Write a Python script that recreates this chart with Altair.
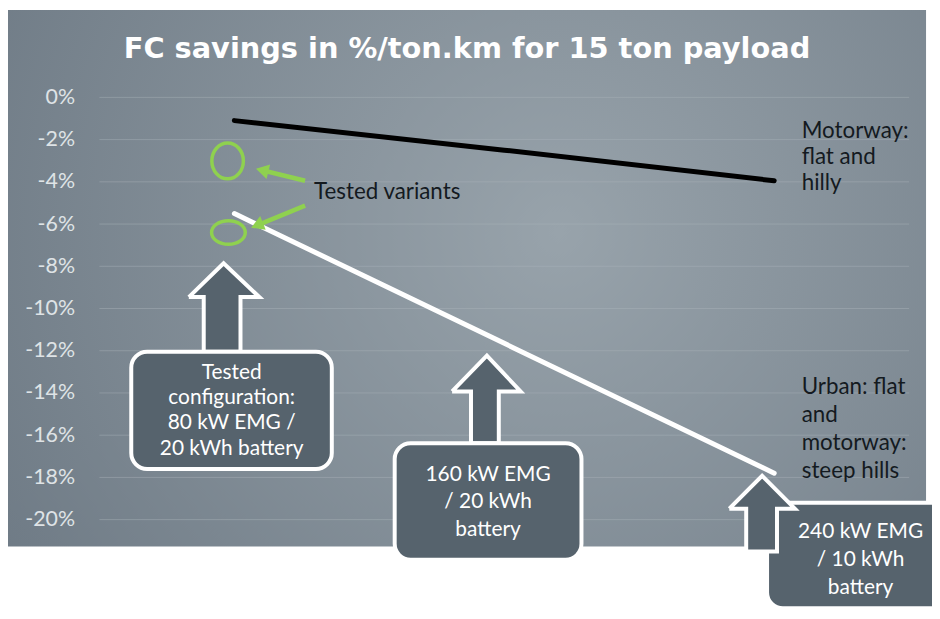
import altair as alt
import pandas as pd

# ---- data ----
configs = [1, 2, 3]
motorway = [-1.1, -2.5, -3.95]
urban = [-5.5, -11.65, -17.8]
y_ticks = [0, -2, -4, -6, -8, -10, -12, -14, -16, -18, -20]

title_text = "FC savings in %/ton.km for 15 ton payload"

# tested variant markers (data units)
ell_x = [0.975, 0.978]
ell_y = [-3.01, -6.4]

# green pointer arrows (start -> head)
ptr_x1 = [1.262, 1.262]
ptr_y1 = [-3.95, -5.13]
ptr_x2 = [1.103, 1.084]
ptr_y2 = [-3.45, -6.06]
ptr_angle = [284, 248]

# block arrows polygons (data units)
arr_id = [1]*8 + [2]*8 + [3]*8
arr_x = [0.8313, 0.9601, 1.0926, 1.0227, 1.0227, 0.8865, 0.8865, 0.8313,
         1.8067, 1.9356, 2.0607, 1.9797, 1.9797, 1.8767, 1.8767, 1.8067,
         2.8337, 2.9552, 3.0767, 3.0104, 3.0104, 2.8963, 2.8963, 2.8337]
arr_y = [-9.459, -7.859, -9.459, -9.459, -12.047, -12.047, -9.459, -9.459,
         -13.929, -12.235, -13.929, -13.929, -16.376, -16.376, -13.929, -13.929,
         -19.482, -17.929, -19.482, -19.482, -21.506, -21.506, -19.482, -19.482]

# boxes (data units)
box_x1 = [0.618, 1.594, 2.9736]
box_x2 = [1.361, 2.286, 3.68]
box_y1 = [-12.05, -16.38, -19.2]
box_y2 = [-17.6, -21.9, -24.2]
box_text = ["Tested\nconfiguration:\n80 kW EMG /\n20 kWh battery",
            "160 kW EMG\n/ 20 kWh\nbattery",
            "240 kW EMG\n/ 10 kWh\nbattery"]
box_tx = [0.99, 1.94, 3.32]
box_ty = [-12.52, -17.35, -20.07]

# side labels
lab_text = ["Motorway:\nflat and\nhilly", "Urban: flat\nand\nmotorway:\nsteep hills", "Tested variants"]
lab_x = [3.102, 3.102, 1.295]
lab_y = [-1.1, -13.2, -3.96]

FONT = "Lato"
xs = alt.Scale(domain=[0.5, 3.5])
ys = alt.Scale(domain=[-20, 0])

lines_df = pd.DataFrame({
    "x": configs * 2,
    "y": motorway + urban,
    "s": ["Motorway"] * 3 + ["Urban"] * 3,
})

gradient = {
    "gradient": "radial",
    "x1": 0.6, "y1": 0.45, "x2": 0.6, "y2": 0.45, "r1": 0, "r2": 0.75,
    "stops": [{"offset": 0, "color": "#98a3ab"},
              {"offset": 1, "color": "#6c7883"}],
}

bg = alt.Chart(pd.DataFrame({"a": [0]})).mark_rect(fill=gradient).encode(
    x=alt.value(-92), x2=alt.value(832), y=alt.value(-88), y2=alt.value(452)
)

grid = alt.Chart(pd.DataFrame({"y": y_ticks})).mark_rule(color="#a9b2b9", opacity=0.45, strokeWidth=1).encode(
    y=alt.Y("y:Q", scale=ys, axis=alt.Axis(
        values=y_ticks, format=".0f", labelExpr="datum.value + '%'",
        labelFont=FONT, labelFontSize=21.5, labelColor="#dfe3e6",
        labelPadding=25, ticks=False, domain=False, grid=False, zindex=1, title=None)),
)

title = alt.Chart(pd.DataFrame({"t": [title_text]})).mark_text(
    font="DejaVu Sans", fontSize=29, fontWeight="bold", color="white", align="center", baseline="middle"
).encode(text="t:N", x=alt.value(370), y=alt.value(-49))

lines = alt.Chart(lines_df).mark_line(strokeWidth=5, strokeCap="round").encode(
    x=alt.X("x:Q", scale=xs, axis=None),
    y=alt.Y("y:Q", scale=ys),
    detail="s:N",
    color=alt.Color("s:N", scale=alt.Scale(domain=["Motorway", "Urban"], range=["#000000", "#ffffff"]), legend=None),
)

ell_shapes = ["M-0.88,0A0.88,1 0 1,0 0.88,0A0.88,1 0 1,0 -0.88,0Z",
              "M-1,0A1,0.7 0 1,0 1,0A1,0.7 0 1,0 -1,0Z"]
ell1 = alt.Chart(pd.DataFrame({"x": ell_x[:1], "y": ell_y[:1]})).mark_point(
    shape=ell_shapes[0], size=1300, filled=False, stroke="#8fd14f", strokeWidth=3.5, opacity=1
).encode(x=alt.X("x:Q", scale=xs), y=alt.Y("y:Q", scale=ys))
ell2 = alt.Chart(pd.DataFrame({"x": ell_x[1:], "y": ell_y[1:]})).mark_point(
    shape=ell_shapes[1], size=1150, filled=False, stroke="#8fd14f", strokeWidth=3.5, opacity=1
).encode(x=alt.X("x:Q", scale=xs), y=alt.Y("y:Q", scale=ys))

ptr_df = pd.DataFrame({"x1": ptr_x1, "y1": ptr_y1, "x2": ptr_x2, "y2": ptr_y2, "a": ptr_angle})
ptr_shaft = alt.Chart(ptr_df).mark_rule(color="#8fd14f", strokeWidth=4.5).encode(
    x=alt.X("x1:Q", scale=xs), y=alt.Y("y1:Q", scale=ys), x2="x2:Q", y2="y2:Q")
ptr_head = alt.Chart(ptr_df).mark_point(shape="triangle-up", size=220, filled=True, color="#8fd14f", opacity=1).encode(
    x=alt.X("x2:Q", scale=xs), y=alt.Y("y2:Q", scale=ys), angle=alt.Angle("a:Q", scale=None))

box_df = pd.DataFrame({"x1": box_x1, "x2": box_x2, "y1": box_y1, "y2": box_y2,
                       "t": box_text, "tx": box_tx, "ty": box_ty, "k": [1, 2, 3]})
boxes = alt.Chart(box_df).mark_rect(fill="#56636d", stroke="white", strokeWidth=4, cornerRadius=16).encode(
    x=alt.X("x1:Q", scale=xs), x2="x2:Q", y=alt.Y("y1:Q", scale=ys), y2="y2:Q")
box_txt1 = alt.Chart(box_df).transform_filter("datum.k == 1").mark_text(
    font=FONT, fontSize=21, color="white", align="center",
    baseline="top", lineBreak="\n", lineHeight=25.5).encode(
    x=alt.X("tx:Q", scale=xs), y=alt.Y("ty:Q", scale=ys), text="t:N")
box_txt2 = alt.Chart(box_df).transform_filter("datum.k > 1").mark_text(
    font=FONT, fontSize=21, color="white", align="center",
    baseline="top", lineBreak="\n", lineHeight=28).encode(
    x=alt.X("tx:Q", scale=xs), y=alt.Y("ty:Q", scale=ys), text="t:N")

arr_df = pd.DataFrame({"id": arr_id, "x": arr_x, "y": arr_y, "o": list(range(len(arr_x)))})
arrows = alt.Chart(arr_df).mark_line(fill="#56636d", stroke="white", strokeWidth=4, strokeJoin="miter").encode(
    x=alt.X("x:Q", scale=xs), y=alt.Y("y:Q", scale=ys), detail="id:N", order="o:Q")

lab_df = pd.DataFrame({"t": lab_text, "x": lab_x, "y": lab_y, "k": [1, 2, 3]})
labels_a = alt.Chart(lab_df).transform_filter("datum.k != 2").mark_text(
    font=FONT, fontSize=22.5, color="#141a1f", align="left",
    baseline="top", lineBreak="\n", lineHeight=26).encode(
    x=alt.X("x:Q", scale=xs), y=alt.Y("y:Q", scale=ys), text="t:N")
labels_b = alt.Chart(lab_df).transform_filter("datum.k == 2").mark_text(
    font=FONT, fontSize=22.5, color="#141a1f", align="left",
    baseline="top", lineBreak="\n", lineHeight=28.3).encode(
    x=alt.X("x:Q", scale=xs), y=alt.Y("y:Q", scale=ys), text="t:N")

chart = alt.layer(
    bg, grid, title, lines, ell1, ell2, ptr_shaft, ptr_head,
    arrows.transform_filter("datum.id < 3"), boxes, box_txt1, box_txt2,
    arrows.transform_filter("datum.id == 3"), labels_a, labels_b
).properties(
    width=815, height=425,
    padding={"left": 92, "top": 88, "right": 23, "bottom": 91},
    autosize=alt.AutoSizeParams(type="none"),
).configure_view(stroke=None)

chart.save("out.html", embed_options={"renderer": "svg", "actions": False})
